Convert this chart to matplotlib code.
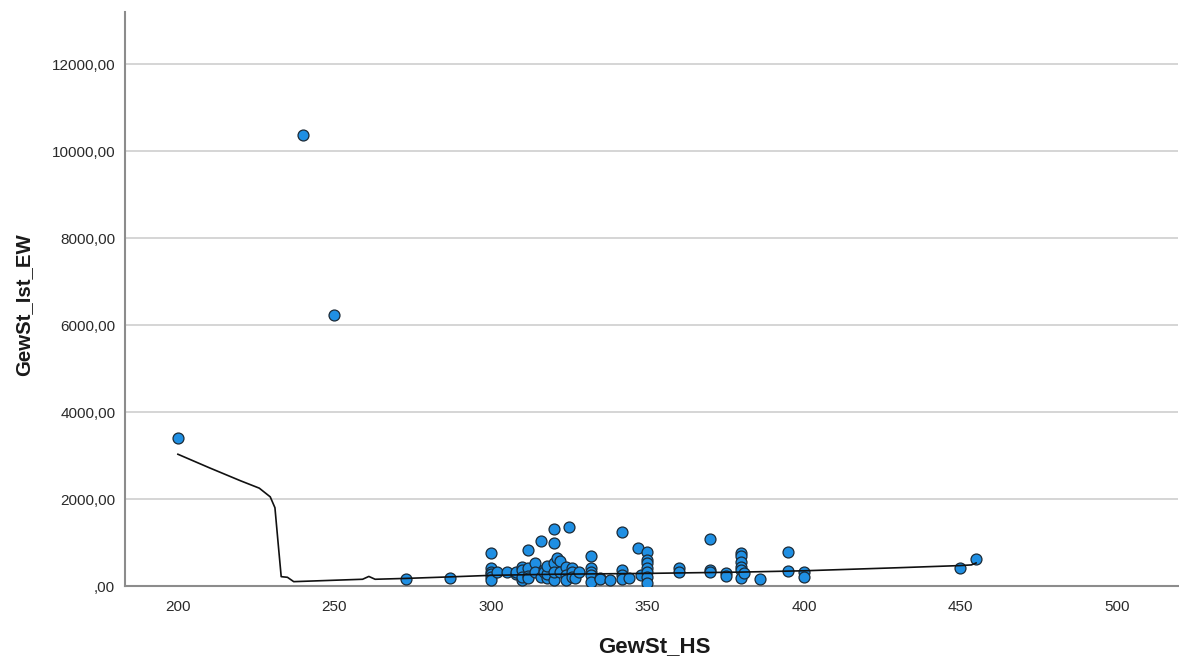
import matplotlib
matplotlib.use("Agg")
import matplotlib.pyplot as plt
from matplotlib.ticker import FuncFormatter

# Municipal trade tax: assessment rate (GewSt_HS) vs. actual revenue per inhabitant (GewSt_Ist_EW)
gewst_hs = [
    200, 240, 250, 273, 287,
    300, 300, 300, 300, 300, 300, 302, 305, 308, 308,
    310, 310, 310, 310, 312, 312, 312, 312, 314, 314,
    316, 316, 317, 317, 318, 318, 318,
    320, 320, 320, 320, 320, 321, 322, 322,
    325, 324, 324, 324, 326, 326, 326, 327, 328,
    332, 332, 332, 332, 332, 335, 335, 338,
    342, 342, 342, 342, 344, 347, 348,
    350, 350, 350, 350, 350, 350, 350,
    360, 360, 370, 370, 370, 375, 375,
    380, 380, 380, 380, 380, 380, 381, 386,
    395, 395, 400, 400, 450, 455,
]
gewst_ist_ew = [
    3400, 10370, 6240, 150, 180,
    750, 420, 330, 270, 210, 140, 320, 330, 280, 330,
    140, 445, 370, 215, 410, 220, 180, 830, 540, 330,
    1045, 215, 370, 330, 180, 270, 470,
    1310, 520, 1000, 140, 330, 650, 580, 330,
    1350, 445, 260, 140, 410, 320, 215, 180, 330,
    690, 410, 330, 250, 100, 180, 150, 140,
    1240, 370, 250, 160, 180, 880, 250,
    780, 600, 520, 410, 330, 200, 80,
    420, 330, 1075, 370, 330, 310, 230,
    750, 690, 560, 445, 370, 180, 310, 150,
    775, 345, 330, 215, 410, 620,
]

# Smoothed fit line
fit_x = [200, 210, 220, 226, 229.5, 231, 232, 233, 235, 237, 245, 255,
         259, 261, 263, 273, 287, 300, 320, 350, 380, 400, 430, 450, 453.5, 455]
fit_y = [3030, 2720, 2420, 2250, 2050, 1800, 1000, 215, 200, 100, 120, 145,
         155, 220, 155, 175, 210, 245, 270, 290, 320, 350, 420, 470, 485, 530]

y_ticks = [0, 2000, 4000, 6000, 8000, 10000, 12000]
x_ticks = [200, 250, 300, 350, 400, 450, 500]

plt.rcParams['font.family'] = ['Liberation Sans', 'DejaVu Sans']

W, H = 1179, 658
fig = plt.figure(figsize=(W / 100, H / 100), dpi=100)
ax = fig.add_axes([125 / W, 72 / H, 1053 / W, 574 / H])

ax.scatter(gewst_hs, gewst_ist_ew, s=62, color='#1f8fe3', edgecolor='#1c2a36',
           linewidth=0.9, zorder=3)
ax.plot(fit_x, fit_y, color='#111111', linewidth=1.2, zorder=4)

ax.set_xlim(183.1, 519.5)
ax.set_ylim(0, 13200)
ax.set_xticks(x_ticks)
ax.set_yticks(y_ticks)


def de_fmt(v, pos):
    s = f"{v:.2f}".replace('.', ',')
    return s[1:] if s.startswith('0,') else s


ax.yaxis.set_major_formatter(FuncFormatter(de_fmt))
ax.grid(axis='y', color='#d2d2d2', linewidth=1.3, zorder=0)
ax.set_axisbelow(True)

for side in ('top', 'right'):
    ax.spines[side].set_visible(False)
for side in ('left', 'bottom'):
    ax.spines[side].set_color('#8c8c8c')
    ax.spines[side].set_linewidth(1.5)

ax.tick_params(axis='both', length=0, labelsize=11, labelcolor='#2a2a2a')
ax.tick_params(axis='y', pad=7)
ax.tick_params(axis='x', pad=10)

# Axis titles placed in figure coordinates
fig.text(654 / W, 1 - 652 / H, 'GewSt_HS', fontsize=16, fontweight='bold',
         color='#1a1a1a', ha='center', va='baseline')
fig.text(24 / W, 1 - 305 / H, 'GewSt_Ist_EW', fontsize=14.7, fontweight='bold',
         color='#1a1a1a', ha='center', va='center', rotation=90)

fig.savefig('out.png', dpi=100)
